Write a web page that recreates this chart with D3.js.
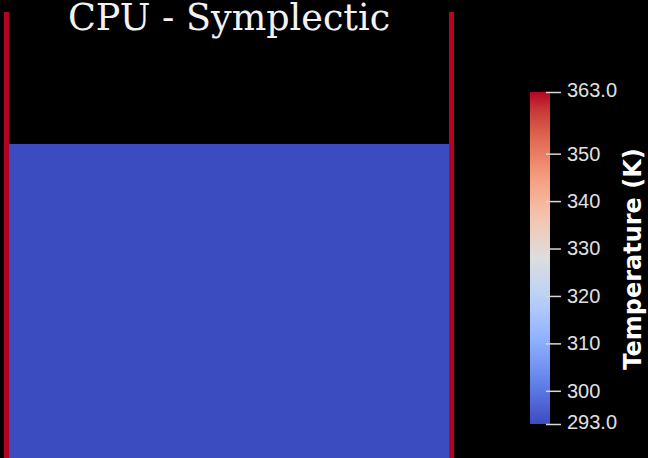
<!DOCTYPE html>
<html>
<head>
<meta charset="utf-8">
<script src="https://cdn.jsdelivr.net/npm/d3@7"></script>
<style>
  html, body { margin: 0; padding: 0; background: #000; }
  svg { display: block; }
</style>
</head>
<body>
<svg id="chart" width="648" height="458"></svg>
<script>
// ---- data ----
const title = "CPU - Symplectic";
const colorbarTitle = "Temperature (K)";
const tempRange = [293.0, 363.0];
const tickValues = [293.0, 300, 310, 320, 330, 340, 350, 363.0];
const tickLabels = ["293.0", "300", "310", "320", "330", "340", "350", "363.0"];
// scene parts in world units (m): [x0, x1, y0, y1, temperature]
const partNames = ["fluid", "leftWall", "rightWall"];
const partX0 = [0.000, -0.0115, 1.000];
const partX1 = [1.000, 0.000, 1.0115];
const partY0 = [-0.05, -0.05, -0.05];
const partY1 = [0.732, 1.032, 1.032];
const partTemp = [293.0, 363.0, 363.0];
// Cool to Warm colormap stops
const cmapPos = [0, 0.125, 0.25, 0.375, 0.5, 0.625, 0.75, 0.875, 1];
const cmapCol = ["#3b4cc0", "#6282ea", "#8db0fe", "#b8d0f9", "#dddddd", "#f5c4ad", "#f49a7b", "#de604d", "#b40426"];

const svg = d3.select("#chart");
const W = 648, H = 458;
svg.append("rect").attr("width", W).attr("height", H).attr("fill", "#000");

const color = d3.scaleLinear()
  .domain(cmapPos.map(p => tempRange[0] + p * (tempRange[1] - tempRange[0])))
  .range(cmapCol)
  .interpolate(d3.interpolateLab)
  .clamp(true);

// scene scales
const pxPerUnit = 440;
const x = d3.scaleLinear().domain([0, 1]).range([9, 9 + pxPerUnit]);
const y = d3.scaleLinear().domain([0, 1]).range([466, 466 - pxPerUnit]);

const parts = partNames.map((n, i) => ({n, x0: partX0[i], x1: partX1[i], y0: partY0[i], y1: partY1[i], t: partTemp[i]}));
svg.append("g").selectAll("rect").data(parts).join("rect")
  .attr("x", d => x(d.x0))
  .attr("width", d => x(d.x1) - x(d.x0))
  .attr("y", d => y(d.y1))
  .attr("height", d => y(d.y0) - y(d.y1))
  .attr("fill", d => color(d.t));

// title
svg.append("text")
  .attr("x", 229).attr("y", 30)
  .attr("text-anchor", "middle")
  .attr("font-family", "'DejaVu Serif', serif")
  .attr("font-size", 36.5)
  .attr("fill", "#f2f2f2")
  .text(title);

// colorbar
const cbX = 530, cbW = 20;
const cy = d3.scaleLinear().domain(tempRange).range([424, 92]);
const defs = svg.append("defs");
const grad = defs.append("linearGradient").attr("id", "cbgrad")
  .attr("x1", 0).attr("y1", 1).attr("x2", 0).attr("y2", 0);
d3.range(0, 1.0001, 0.05).forEach(p => {
  grad.append("stop").attr("offset", p)
    .attr("stop-color", color(tempRange[0] + p * (tempRange[1] - tempRange[0])));
});
svg.append("rect")
  .attr("x", cbX).attr("y", cy(tempRange[1]))
  .attr("width", cbW).attr("height", cy(tempRange[0]) - cy(tempRange[1]))
  .attr("fill", "url(#cbgrad)");

const axis = d3.axisRight(cy)
  .tickValues(tickValues)
  .tickFormat((d, i) => tickLabels[i])
  .tickSize(15)
  .tickPadding(6);
const ag = svg.append("g").attr("transform", `translate(${cbX + 16},0)`).call(axis);
ag.select(".domain").remove();
ag.selectAll(".tick line").attr("stroke", "#d8d8d8").attr("stroke-width", 1.5);
ag.selectAll(".tick text")
  .attr("fill", "#e0e0e0")
  .attr("font-family", "'Liberation Sans', Arial, sans-serif")
  .attr("font-size", 20);
ag.selectAll(".tick").filter(d => d === tempRange[1]).select("text").attr("dy", "0.2em");
ag.selectAll(".tick").filter(d => d === tempRange[0]).select("text").attr("dy", "0.2em");

svg.append("text")
  .attr("transform", `translate(641,${(148 + 370) / 2}) rotate(-90)`)
  .attr("text-anchor", "middle")
  .attr("font-family", "'DejaVu Sans', sans-serif")
  .attr("font-weight", "bold")
  .attr("font-size", 24)
  .attr("fill", "#ffffff")
  .text(colorbarTitle);
</script>
</body>
</html>
